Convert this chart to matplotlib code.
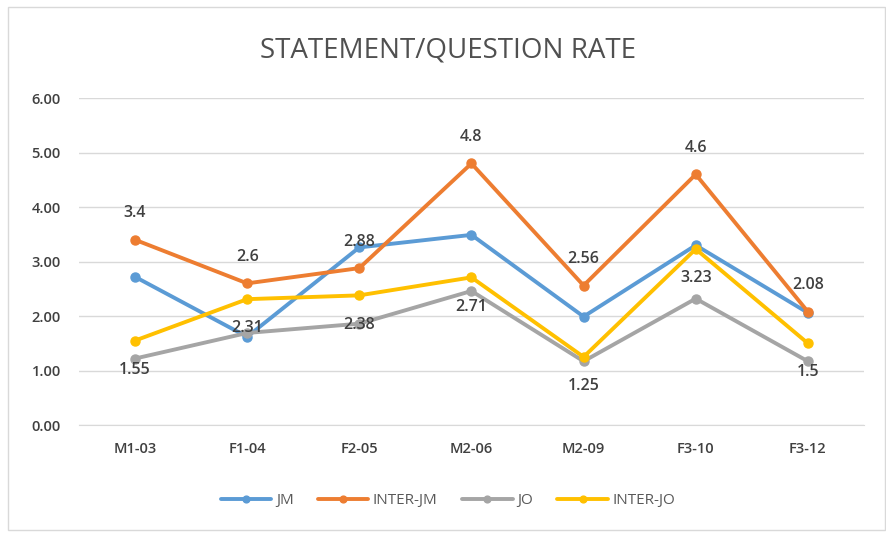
import matplotlib
matplotlib.use("Agg")
import matplotlib.pyplot as plt
from matplotlib.patches import Rectangle

categories = ["M1-03", "F1-04", "F2-05", "M2-06", "M2-09", "F3-10", "F3-12"]
jm = [2.72, 1.62, 3.26, 3.49, 1.99, 3.30, 2.06]
inter_jm = [3.4, 2.6, 2.88, 4.8, 2.56, 4.6, 2.08]
jo = [1.22, 1.69, 1.86, 2.46, 1.17, 2.32, 1.17]
inter_jo = [1.55, 2.31, 2.38, 2.71, 1.25, 3.23, 1.5]
yticks = [0, 1, 2, 3, 4, 5, 6]

plt.rcParams['font.family'] = ['Open Sans', 'DejaVu Sans']

fig = plt.figure(figsize=(8.87, 5.36), dpi=100)
fig.patch.set_facecolor("white")
fig.patches.append(Rectangle((0.009, 0.012), 0.989, 0.975, transform=fig.transFigure,
                             fill=False, edgecolor="#d9d9d9", linewidth=1.0))

ax = fig.add_axes([0.089, 0.207, 0.885, 0.610])
x = list(range(len(categories)))

series = [("JM", jm, "#5B9BD5"), ("INTER-JM", inter_jm, "#ED7D31"),
          ("JO", jo, "#A5A5A5"), ("INTER-JO", inter_jo, "#FFC000")]
for name, vals, col in series:
    ax.plot(x, vals, color=col, linewidth=2.8, marker="o", markersize=6.5,
            label=name, solid_capstyle="round")

lbl_kw = dict(ha="center", va="center", fontsize=11.5, color="#404040",
              fontweight="semibold")
for xi, v in zip(x, inter_jm):
    ax.annotate(f"{v:g}", (xi, v), xytext=(0, 19), textcoords="offset points", **lbl_kw)
for xi, v in zip(x, inter_jo):
    ax.annotate(f"{v:g}", (xi, v), xytext=(0, -21), textcoords="offset points", **lbl_kw)

ax.set_xlim(-0.5, len(categories) - 0.5)
ax.set_ylim(0, 6)
ax.set_yticks(yticks)
ax.set_yticklabels([f"{t:.2f}" for t in yticks])
ax.set_xticks(x)
ax.set_xticklabels(categories)
ax.tick_params(axis="both", length=0, labelsize=10.5, colors="#404040")
for t in ax.get_xticklabels() + ax.get_yticklabels():
    t.set_fontweight("semibold")
ax.tick_params(axis="x", pad=12)
ax.tick_params(axis="y", pad=13)
ax.grid(axis="y", color="#d9d9d9", linewidth=1)
ax.set_axisbelow(True)
for s in ["top", "right", "left"]:
    ax.spines[s].set_visible(False)
ax.spines["bottom"].set_color("#d9d9d9")

fig.text(0.505, 0.905, "STATEMENT/QUESTION RATE", ha="center", va="center",
         fontsize=20, color="#505050")

leg = fig.legend(loc="center", bbox_to_anchor=(0.505, 0.066), ncol=4, frameon=False,
                 fontsize=11, labelcolor="#595959", handlelength=3.3, columnspacing=1.6,
                 handletextpad=0.3, markerscale=0.75)

fig.savefig("out.png", dpi=100, facecolor="white")
